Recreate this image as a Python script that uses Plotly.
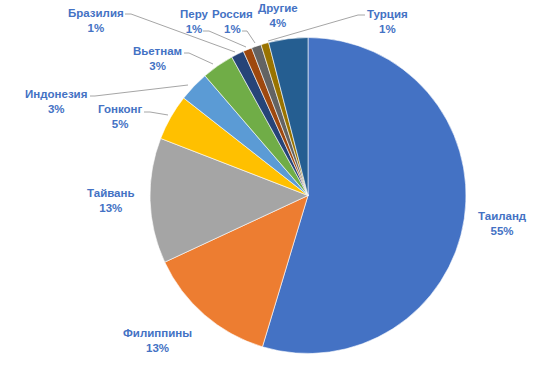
import plotly.graph_objects as go

W, H = 555, 385

labels = ["Таиланд", "Филиппины", "Тайвань", "Гонконг", "Индонезия", "Вьетнам",
          "Бразилия", "Перу", "Россия", "Турция", "Другие"]
values = [54.6, 13.4, 12.8, 4.7, 3.1, 3.3, 1.3, 0.9, 1.0, 0.8, 4.0]
colors = ["#4472C4", "#ED7D31", "#A5A5A5", "#FFC000", "#5B9BD5", "#70AD47",
          "#264478", "#9E480E", "#636363", "#997300", "#255E91"]

# label centre positions (pixels) – layout only
label_pos = {
    "Таиланд": (502, 223), "Филиппины": (157, 340), "Тайвань": (111, 201),
    "Гонконг": (120, 116), "Индонезия": (56, 102), "Вьетнам": (157, 58),
    "Бразилия": (96, 20), "Перу": (194, 21), "Россия": (232, 21),
    "Турция": (387, 21), "Другие": (278, 15),
}
leaders = {
    "Бразилия": [(125, 14), (131, 14), (235, 52)],
    "Перу": [(203, 31), (209, 31), (246, 47)],
    "Россия": [(242, 31), (247, 31), (255, 43)],
    "Турция": [(365, 15), (358, 15), (268, 41)],
    "Вьетнам": [(184, 53), (189, 53), (213, 64)],
    "Индонезия": [(90, 96), (95, 96), (188, 85)],
    "Гонконг": [(144, 112), (150, 112), (168, 115)],
}

total = sum(values)
cx, cy, r = 308, 195.5, 158

fig = go.Figure(go.Pie(
    labels=labels, values=values, sort=False, direction="clockwise", rotation=0,
    marker=dict(colors=colors, line=dict(color="white", width=0.6)),
    textinfo="none", hoverinfo="label+percent", showlegend=False,
    domain=dict(x=[(cx - r) / W, (cx + r) / W], y=[1 - (cy + r) / H, 1 - (cy - r) / H]),
))

def px(x, y):
    return x / W, 1 - y / H

annotations = []
for name, v in zip(labels, values):
    x, y = label_pos[name]
    ax, ay = px(x, y)
    annotations.append(dict(
        x=ax, y=ay, xref="paper", yref="paper", showarrow=False,
        text=f"{name}<br>{round(v / total * 100)}%", align="center",
        font=dict(family="Liberation Sans, Arial", size=11.5, color="#4472C4", weight="bold"),
        xanchor="center", yanchor="middle",
    ))

shapes = []
for name, pts in leaders.items():
    path = "M " + " L ".join(f"{px(x, y)[0]},{px(x, y)[1]}" for x, y in pts)
    shapes.append(dict(type="path", path=path, xref="paper", yref="paper",
                       line=dict(color="#A6A6A6", width=1)))

fig.update_layout(
    width=W, height=H, margin=dict(l=0, r=0, t=0, b=0),
    paper_bgcolor="white", plot_bgcolor="white",
    annotations=annotations, shapes=shapes,
)

fig.write_html("out.html", config={"displayModeBar": False},
               post_script="document.body.style.margin='0';")
